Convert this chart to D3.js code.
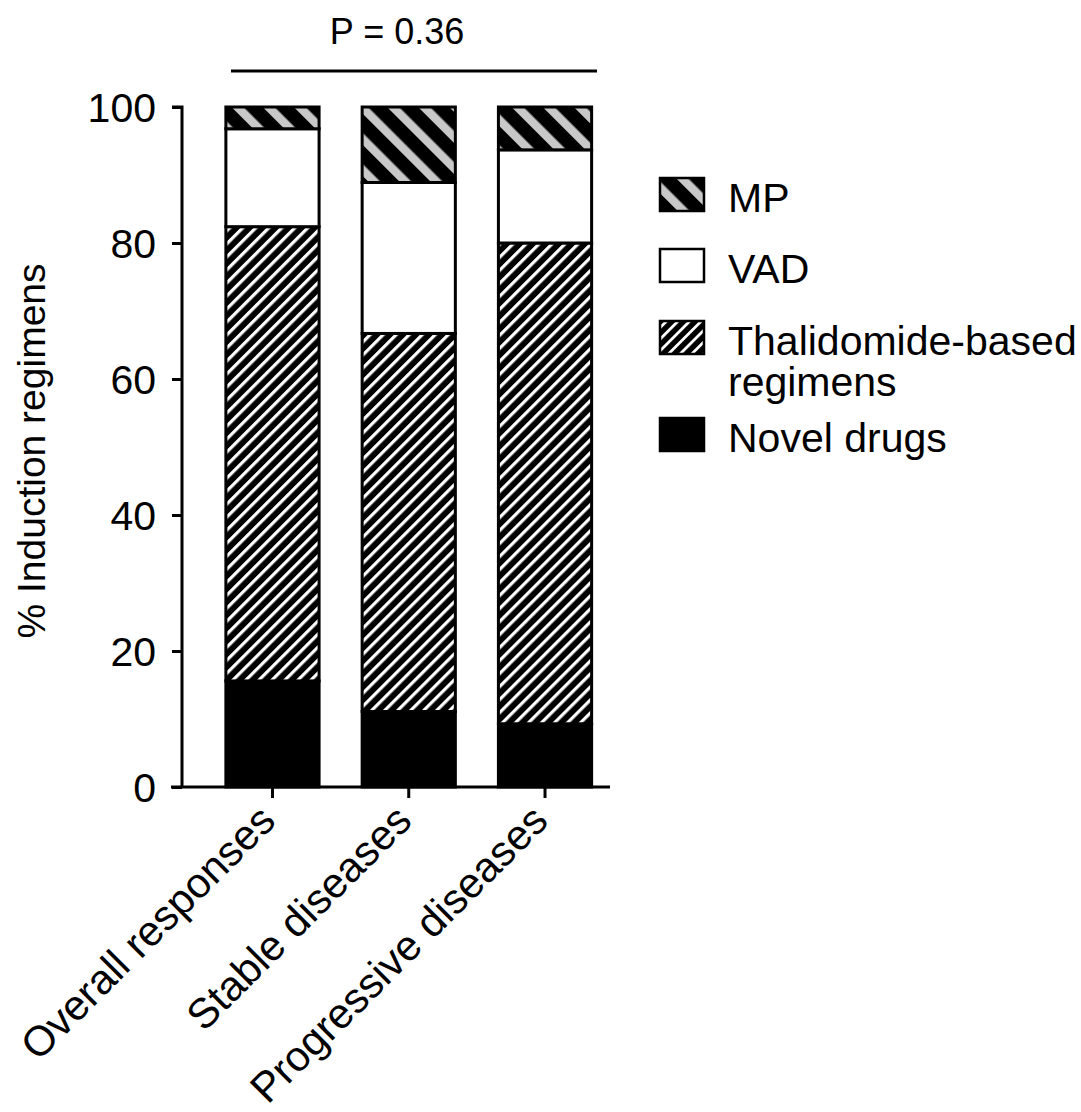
<!DOCTYPE html>
<html>
<head>
<meta charset="utf-8">
<script src="https://cdn.jsdelivr.net/npm/d3@7"></script>
<style>
  html, body { margin: 0; padding: 0; background: #fff; }
  svg text { font-family: "Liberation Sans", Arial, Helvetica, sans-serif; fill: #000; }
</style>
</head>
<body>
<svg id="chart" width="1081" height="1112"></svg>
<script>
// ---- data ----
const categories = ["Overall responses", "Stable diseases", "Progressive diseases"];
const seriesNames = ["Novel drugs", "Thalidomide-based regimens", "VAD", "MP"];
const novelDrugs   = [15.6, 11.1, 9.3];
const thalidomide  = [66.8, 55.6, 70.7];
const vad          = [14.4, 22.2, 13.7];
const mp           = [3.2, 11.1, 6.3];
const yTicks = [0, 20, 40, 60, 80, 100];
const pLabel = "P = 0.36";
const yTitle = "% Induction regimens";

const rows = categories.map((c, i) => ({
  cat: c,
  "Novel drugs": novelDrugs[i],
  "Thalidomide-based regimens": thalidomide[i],
  "VAD": vad[i],
  "MP": mp[i]
}));

const svg = d3.select("#chart");
const defs = svg.append("defs");

// hatch patterns
function stripePattern(id, period, stripeW, angle, bg, fg) {
  const p = defs.append("pattern")
    .attr("id", id)
    .attr("patternUnits", "userSpaceOnUse")
    .attr("width", period).attr("height", period)
    .attr("patternTransform", `rotate(${angle})`);
  p.append("rect").attr("width", period).attr("height", period).attr("fill", bg);
  p.append("rect").attr("x", 0).attr("y", 0).attr("width", stripeW).attr("height", period).attr("fill", fg);
}
stripePattern("thal", 9.2, 3.2, 45, "#000", "#fff");
stripePattern("mp", 22, 8.5, -45, "#000", "#c8c8c8");
stripePattern("thalLeg", 8.2, 2.8, 45, "#000", "#fff");

const fills = {
  "Novel drugs": "#000",
  "Thalidomide-based regimens": "url(#thal)",
  "VAD": "#fff",
  "MP": "url(#mp)"
};

const y = d3.scaleLinear().domain([0, 100]).range([787, 107]);
const x = d3.scaleBand().domain(categories).range([204.35, 613.15])
  .paddingInner(0.316).paddingOuter(0.158);

const stack = d3.stack().keys(seriesNames);
const layers = stack(rows);

const gBars = svg.append("g");
layers.forEach(layer => {
  gBars.selectAll(null).data(layer).enter().append("rect")
    .attr("x", d => x(d.data.cat))
    .attr("y", d => y(d[1]))
    .attr("width", x.bandwidth())
    .attr("height", d => y(d[0]) - y(d[1]))
    .attr("fill", fills[layer.key])
    .attr("stroke", "#000")
    .attr("stroke-width", 3);
});

// Y axis
const yAxis = d3.axisLeft(y).tickValues(yTicks).tickSize(10).tickSizeOuter(0).tickPadding(16);
const gy = svg.append("g").attr("transform", "translate(182,0)").call(yAxis);
gy.select(".domain").attr("stroke-width", 3).attr("d", `M-10,${y(100)}H0V${y(0)}`);
gy.selectAll(".tick line").attr("stroke-width", 3);
gy.selectAll(".tick text").attr("font-size", 41).style("font-family", "'Liberation Sans', Arial, sans-serif").attr("dy", "0.36em");

// X axis
const xAxis = d3.axisBottom(x).tickSize(11).tickSizeOuter(0);
const gx = svg.append("g").attr("transform", "translate(0,787)").call(xAxis);
gx.select(".domain").remove();
gx.append("line").attr("x1", 171).attr("x2", 610).attr("y1", 0).attr("y2", 0)
  .attr("stroke", "#000").attr("stroke-width", 3);
gx.selectAll(".tick line").attr("stroke-width", 3);
gx.selectAll(".tick text").remove();

svg.append("g").selectAll("text").data(categories).enter().append("text")
  .attr("transform", d => `translate(${x(d) + x.bandwidth() / 2 + 5},823) rotate(-45)`)
  .attr("text-anchor", "end")
  .attr("font-size", 42)
  .text(d => d);

// Y title
svg.append("text")
  .attr("transform", "translate(45,451) rotate(-90)")
  .attr("text-anchor", "middle")
  .attr("font-size", 39)
  .text(yTitle);

// P value bracket
svg.append("line").attr("x1", 231).attr("x2", 597).attr("y1", 71).attr("y2", 71)
  .attr("stroke", "#000").attr("stroke-width", 3);
svg.append("text").attr("x", 397).attr("y", 44).attr("text-anchor", "middle")
  .attr("font-size", 36).text(pLabel);

// Legend
const legendItems = [
  { fill: "url(#mp)", lines: ["MP"], top: 178 },
  { fill: "#fff", lines: ["VAD"], top: 249 },
  { fill: "url(#thalLeg)", lines: ["Thalidomide-based", "regimens"], top: 321 },
  { fill: "#000", lines: ["Novel drugs"], top: 418 }
];
const gl = svg.append("g");
legendItems.forEach(it => {
  gl.append("rect").attr("x", 660).attr("y", it.top).attr("width", 44).attr("height", 33)
    .attr("fill", it.fill).attr("stroke", "#000").attr("stroke-width", 2.5);
  const t = gl.append("text").attr("x", 728).attr("y", it.top + 34).attr("font-size", 41);
  it.lines.forEach((ln, i) => {
    t.append("tspan").attr("x", 728).attr("dy", i === 0 ? 0 : 41).text(ln);
  });
});
</script>
</body>
</html>
